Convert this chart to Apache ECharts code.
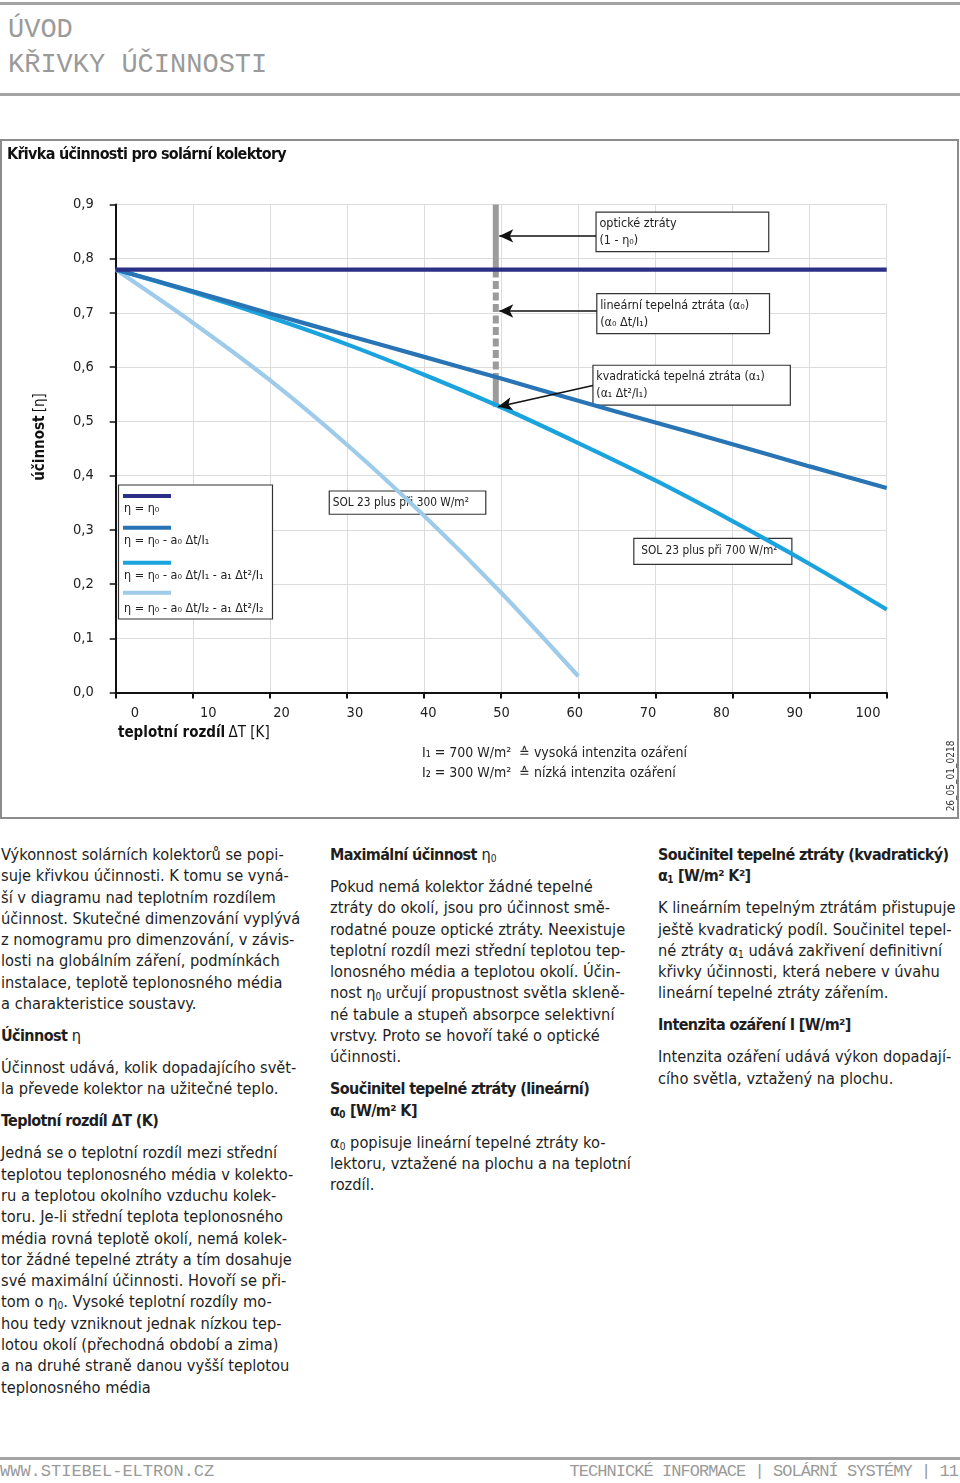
<!DOCTYPE html>
<html><head><meta charset="utf-8">
<script src="https://cdn.jsdelivr.net/npm/echarts@6/dist/echarts.min.js"></script>
<style>
body{margin:0;width:960px;height:1483px;position:relative;background:#fff;font-family:'Liberation Sans Narrow','DejaVu Sans Condensed','Noto Sans',sans-serif;color:#1e1e1e;overflow:hidden}
.hr{position:absolute;left:0;width:960px;height:3px;background:#a3a3a3}
.mono{position:absolute;font-family:'Liberation Mono','DejaVu Sans Mono',monospace;color:#9a9a9a;white-space:nowrap}
#chart{position:absolute;left:0;top:140px;width:958px;height:678px}
#frame{position:absolute;left:0;top:139px;width:955px;height:676px;border:2px solid #8c8c8c;pointer-events:none}
#ctitle{position:absolute;left:7px;top:144px;font-size:16px;line-height:20px;font-weight:bold;letter-spacing:-0.7px;color:#111;white-space:nowrap}
.col{position:absolute;top:844px;font-size:16.3px;line-height:21.3px;white-space:nowrap}
.col p{margin:0 0 10.7px 0}
.col b{font-size:16px;letter-spacing:-0.6px}
.col sub{font-size:0.62em;line-height:0;vertical-align:baseline;position:relative;top:0.2em;letter-spacing:0}
</style></head>
<body>
<div class="hr" style="top:2px"></div>
<div class="mono" style="left:8px;top:15px;font-size:27px;line-height:30px">ÚVOD</div>
<div class="mono" style="left:8px;top:50px;font-size:27px;line-height:30px">KŘIVKY ÚČINNOSTI</div>
<div class="hr" style="top:93px"></div>

<div id="chart"></div>
<div id="frame"></div>
<div id="ctitle">Křivka účinnosti pro solární kolektory</div>

<div class="col" style="left:1px">
<p>Výkonnost solárních kolektorů se popi-<br>suje křivkou účinnosti. K tomu se vyná-<br>ší v diagramu nad teplotním rozdílem<br>účinnost. Skutečné dimenzování vyplývá<br>z nomogramu pro dimenzování, v závis-<br>losti na globálním záření, podmínkách<br>instalace, teplotě teplonosného média<br>a charakteristice soustavy.</p>
<p><b>Účinnost</b> η</p>
<p>Účinnost udává, kolik dopadajícího svět-<br>la převede kolektor na užitečné teplo.</p>
<p><b>Teplotní rozdíl ΔT (K)</b></p>
<p>Jedná se o teplotní rozdíl mezi střední<br>teplotou teplonosného média v kolekto-<br>ru a teplotou okolního vzduchu kolek-<br>toru. Je-li střední teplota teplonosného<br>média rovná teplotě okolí, nemá kolek-<br>tor žádné tepelné ztráty a tím dosahuje<br>své maximální účinnosti. Hovoří se při-<br>tom o η<sub>0</sub>. Vysoké teplotní rozdíly mo-<br>hou tedy vzniknout jednak nízkou tep-<br>lotou okolí (přechodná období a zima)<br>a na druhé straně danou vyšší teplotou<br>teplonosného média</p>
</div>
<div class="col" style="left:330px">
<p><b>Maximální účinnost</b> η<sub>0</sub></p>
<p>Pokud nemá kolektor žádné tepelné<br>ztráty do okolí, jsou pro účinnost smě-<br>rodatné pouze optické ztráty. Neexistuje<br>teplotní rozdíl mezi střední teplotou tep-<br>lonosného média a teplotou okolí. Účin-<br>nost η<sub>0</sub> určují propustnost světla skleně-<br>né tabule a stupeň absorpce selektivní<br>vrstvy. Proto se hovoří také o optické<br>účinnosti.</p>
<p><b>Součinitel tepelné ztráty (lineární)<br>α<sub>0</sub> [W/m² K]</b></p>
<p>α<sub>0</sub> popisuje lineární tepelné ztráty ko-<br>lektoru, vztažené na plochu a na teplotní<br>rozdíl.</p>
</div>
<div class="col" style="left:658px">
<p><b>Součinitel tepelné ztráty (kvadratický)<br>α<sub>1</sub> [W/m² K²]</b></p>
<p>K lineárním tepelným ztrátám přistupuje<br>ještě kvadratický podíl. Součinitel tepel-<br>né ztráty α<sub>1</sub> udává zakřivení definitivní<br>křivky účinnosti, která nebere v úvahu<br>lineární tepelné ztráty zářením.</p>
<p><b>Intenzita ozáření I [W/m²]</b></p>
<p>Intenzita ozáření udává výkon dopadají-<br>cího světla, vztažený na plochu.</p>
</div>

<div class="hr" style="top:1457px"></div>
<div class="mono" style="left:0px;top:1462px;font-size:17px;line-height:20px">WWW.STIEBEL-ELTRON.CZ</div>
<div class="mono" style="right:2px;top:1462px;font-size:17px;line-height:20px;letter-spacing:-0.95px">TECHNICKÉ INFORMACE | SOLÁRNÍ SYSTÉMY | 11</div>

<script>
// ---- data ----
const deltaT = [0, 10, 20, 30, 40, 50, 60, 70, 80, 90, 100];
const etaOptical = [0.78, 0.78, 0.78, 0.78, 0.78, 0.78, 0.78, 0.78, 0.78, 0.78, 0.78];
const etaLinear700 = [0.780, 0.740, 0.699, 0.659, 0.619, 0.579, 0.538, 0.498, 0.458, 0.417, 0.377];
const etaQuad700 = [0.780, 0.738, 0.692, 0.642, 0.586, 0.526, 0.460, 0.391, 0.316, 0.237, 0.153];
const deltaT300 = [0, 10, 20, 30, 40, 50, 60];
const etaQuad300 = [0.780, 0.682, 0.576, 0.457, 0.326, 0.184, 0.030];
const xTickLabels = ['0', '10', '20', '30', '40', '50', '60', '70', '80', '90', '100'];
const yTickLabels = ['0,0', '0,1', '0,2', '0,3', '0,4', '0,5', '0,6', '0,7', '0,8', '0,9'];
const markerDT = 49.3;
const markerLevels = [0.9, 0.78, 0.585, 0.527];
const seriesNames = ['η = η₀', 'η = η₀ - a₀ Δt/I₁', 'η = η₀ - a₀ Δt/I₁ - a₁ Δt²/I₁', 'η = η₀ - a₀ Δt/I₂ - a₁ Δt²/I₂'];
const seriesColors = ['#2c2f86', '#2874b4', '#1ba3de', '#9dcbe9'];

const FONT = "'Liberation Sans Narrow','DejaVu Sans Condensed','Noto Sans',sans-serif";
const zip = (xs, ys) => xs.map((x, i) => [x, ys[i]]);

const chart = echarts.init(document.getElementById('chart'), null, {renderer: 'canvas'});

const curveSeries = [
  {data: zip(deltaT300, etaQuad300), ci: 3},
  {data: zip(deltaT, etaQuad700), ci: 2},
  {data: zip(deltaT, etaLinear700), ci: 1},
  {data: zip(deltaT, etaOptical), ci: 0}
].map(s => ({
  type: 'line', name: seriesNames[s.ci], data: s.data, symbol: 'none', smooth: 0.3,
  lineStyle: {color: seriesColors[s.ci], width: 4.2, cap: 'butt'}, z: 4, silent: true
}));

const barStyle = {color: '#9b9b9b', width: 6, cap: 'butt'};
const markerSeries = [
  {type: 'line', data: [[markerDT, markerLevels[0]], [markerDT, markerLevels[1]]], symbol: 'none', lineStyle: barStyle, z: 3, silent: true},
  {type: 'line', data: [[markerDT, markerLevels[1]], [markerDT, markerLevels[2]]], symbol: 'none', lineStyle: Object.assign({}, barStyle, {type: [8, 3.5]}), z: 3, silent: true},
  {type: 'line', data: [[markerDT, markerLevels[2]], [markerDT, markerLevels[3]]], symbol: 'none', lineStyle: barStyle, z: 3, silent: true}
];

const boxLabel = (pos, pad, fs) => ({show: true, position: pos, distance: pad, color: '#222', fontSize: fs || 12.5, lineHeight: 17, fontFamily: FONT});
const annotationSeries = {
  type: 'line', data: [], z: 2, silent: true,
  markArea: {
    silent: true,
    itemStyle: {color: '#fff', borderColor: '#333', borderWidth: 1.2, opacity: 1},
    data: [
      [{name: 'optické ztráty\n(1 - η₀)', coord: [62.3, 0.886], label: boxLabel('insideTopLeft', 4)}, {coord: [84.7, 0.813]}],
      [{name: 'lineární tepelná ztráta (α₀)\n(α₀ Δt/I₁)', coord: [62.4, 0.7355], label: boxLabel('insideTopLeft', 4)}, {coord: [84.8, 0.6617]}],
      [{name: 'kvadratická tepelná ztráta (α₁)\n(α₁ Δt²/I₁)', coord: [61.9, 0.6035], label: boxLabel('insideTopLeft', 4, 12.2)}, {coord: [87.5, 0.530]}],
      [{name: 'SOL 23 plus při 300 W/m²', coord: [27.7, 0.3716], label: boxLabel('insideLeft', 4, 11.8)}, {coord: [48.0, 0.3287]}],
      [{name: 'SOL 23 plus při 700 W/m²', coord: [67.2, 0.2844], label: boxLabel('insideLeft', 8, 11.8)}, {coord: [87.7, 0.2364]}]
    ]
  },
  markLine: {
    silent: true, symbol: ['none', 'arrow'], symbolSize: [10, 14],
    lineStyle: {color: '#111', width: 1.5, type: 'solid'},
    label: {show: false},
    data: [
      [{coord: [62.3, 0.842]}, {coord: [49.75, 0.842]}],
      [{coord: [62.4, 0.7036]}, {coord: [49.75, 0.7036]}],
      [{coord: [61.9, 0.566]}, {coord: [49.6, 0.527]}]
    ]
  }
};

const legendGraphics = [{type: 'rect', shape: {x: 118.5, y: 345, width: 154, height: 134}, style: {fill: '#fff', stroke: '#333', lineWidth: 1.2}, z: 100}];
const legendLineY = [356, 387.7, 422.7, 452.7];
const legendTextY = [368.5, 401, 435.5, 469];
seriesNames.forEach((n, i) => {
  legendGraphics.push({type: 'line', shape: {x1: 123, y1: legendLineY[i], x2: 171, y2: legendLineY[i]}, style: {stroke: seriesColors[i], lineWidth: 4}, z: 101});
  legendGraphics.push({type: 'text', x: 124, y: legendTextY[i], style: {text: n, fill: '#222', font: '12.5px ' + FONT, textVerticalAlign: 'middle'}, z: 101});
});

const option = {
  animation: false,
  textStyle: {fontFamily: FONT},
  grid: [
    {left: 115.7, width: 771, top: 64.5, height: 488},
    {left: 135, width: 733, top: 64.5, height: 488}
  ],
  xAxis: [
    {type: 'value', gridIndex: 0, min: 0, max: 100, interval: 10,
     axisLine: {show: true, onZero: false, lineStyle: {color: '#111', width: 2}},
     axisTick: {show: true, length: 6, lineStyle: {color: '#111', width: 2}},
     axisLabel: {show: false},
     splitLine: {show: true, lineStyle: {color: '#dcdcdc', width: 1}}},
    {type: 'value', gridIndex: 1, min: 0, max: 100, interval: 10,
     axisLine: {show: false}, axisTick: {show: false}, splitLine: {show: false},
     axisLabel: {show: true, margin: 13, color: '#222', fontSize: 14.5, fontFamily: FONT,
       formatter: v => xTickLabels[Math.round(v / 10)]}}
  ],
  yAxis: [
    {type: 'value', gridIndex: 0, min: 0, max: 0.9, interval: 0.1,
     axisLine: {show: true, lineStyle: {color: '#111', width: 2}},
     axisTick: {show: true, length: 6, lineStyle: {color: '#111', width: 1.5}},
     axisLabel: {margin: 22, color: '#222', fontSize: 14.5, fontFamily: FONT, formatter: v => yTickLabels[Math.round(v * 10)]},
     splitLine: {show: true, lineStyle: {color: '#dcdcdc', width: 1}}},
    {type: 'value', gridIndex: 1, min: 0, max: 0.9, show: false}
  ],
  graphic: [
    {type: 'text', x: 40, y: 297, rotation: Math.PI / 2, style: {rich: {b: {fontWeight: 'bold', fontSize: 15, fill: '#111', fontFamily: FONT}, n: {fontSize: 15, fill: '#111', fontFamily: FONT}}, text: '{b|účinnost} {n|[η]}', textAlign: 'center', textVerticalAlign: 'middle'}},
    {type: 'text', x: 118, y: 593, style: {rich: {b: {fontWeight: 'bold', fontSize: 15, fill: '#111', fontFamily: FONT}, n: {fontSize: 15, fill: '#111', fontFamily: FONT}}, text: '{b|teplotní rozdíl} {n|ΔT [K]}', textVerticalAlign: 'middle'}},
    {type: 'text', x: 422, y: 613, style: {text: 'I₁ = 700 W/m²  ≙ vysoká intenzita ozáření', fill: '#222', font: '14px ' + FONT, textVerticalAlign: 'middle'}},
    {type: 'text', x: 422, y: 633, style: {text: 'I₂ = 300 W/m²  ≙ nízká intenzita ozáření', fill: '#222', font: '14px ' + FONT, textVerticalAlign: 'middle'}},
    {type: 'text', x: 951, y: 636, rotation: Math.PI / 2, style: {text: '26_05_01_0218', fill: '#333', font: '10px ' + FONT, textAlign: 'center', textVerticalAlign: 'middle'}}
  ].concat(legendGraphics),
  series: [annotationSeries].concat(markerSeries, curveSeries)
};
chart.setOption(option);
</script>
</body></html>
